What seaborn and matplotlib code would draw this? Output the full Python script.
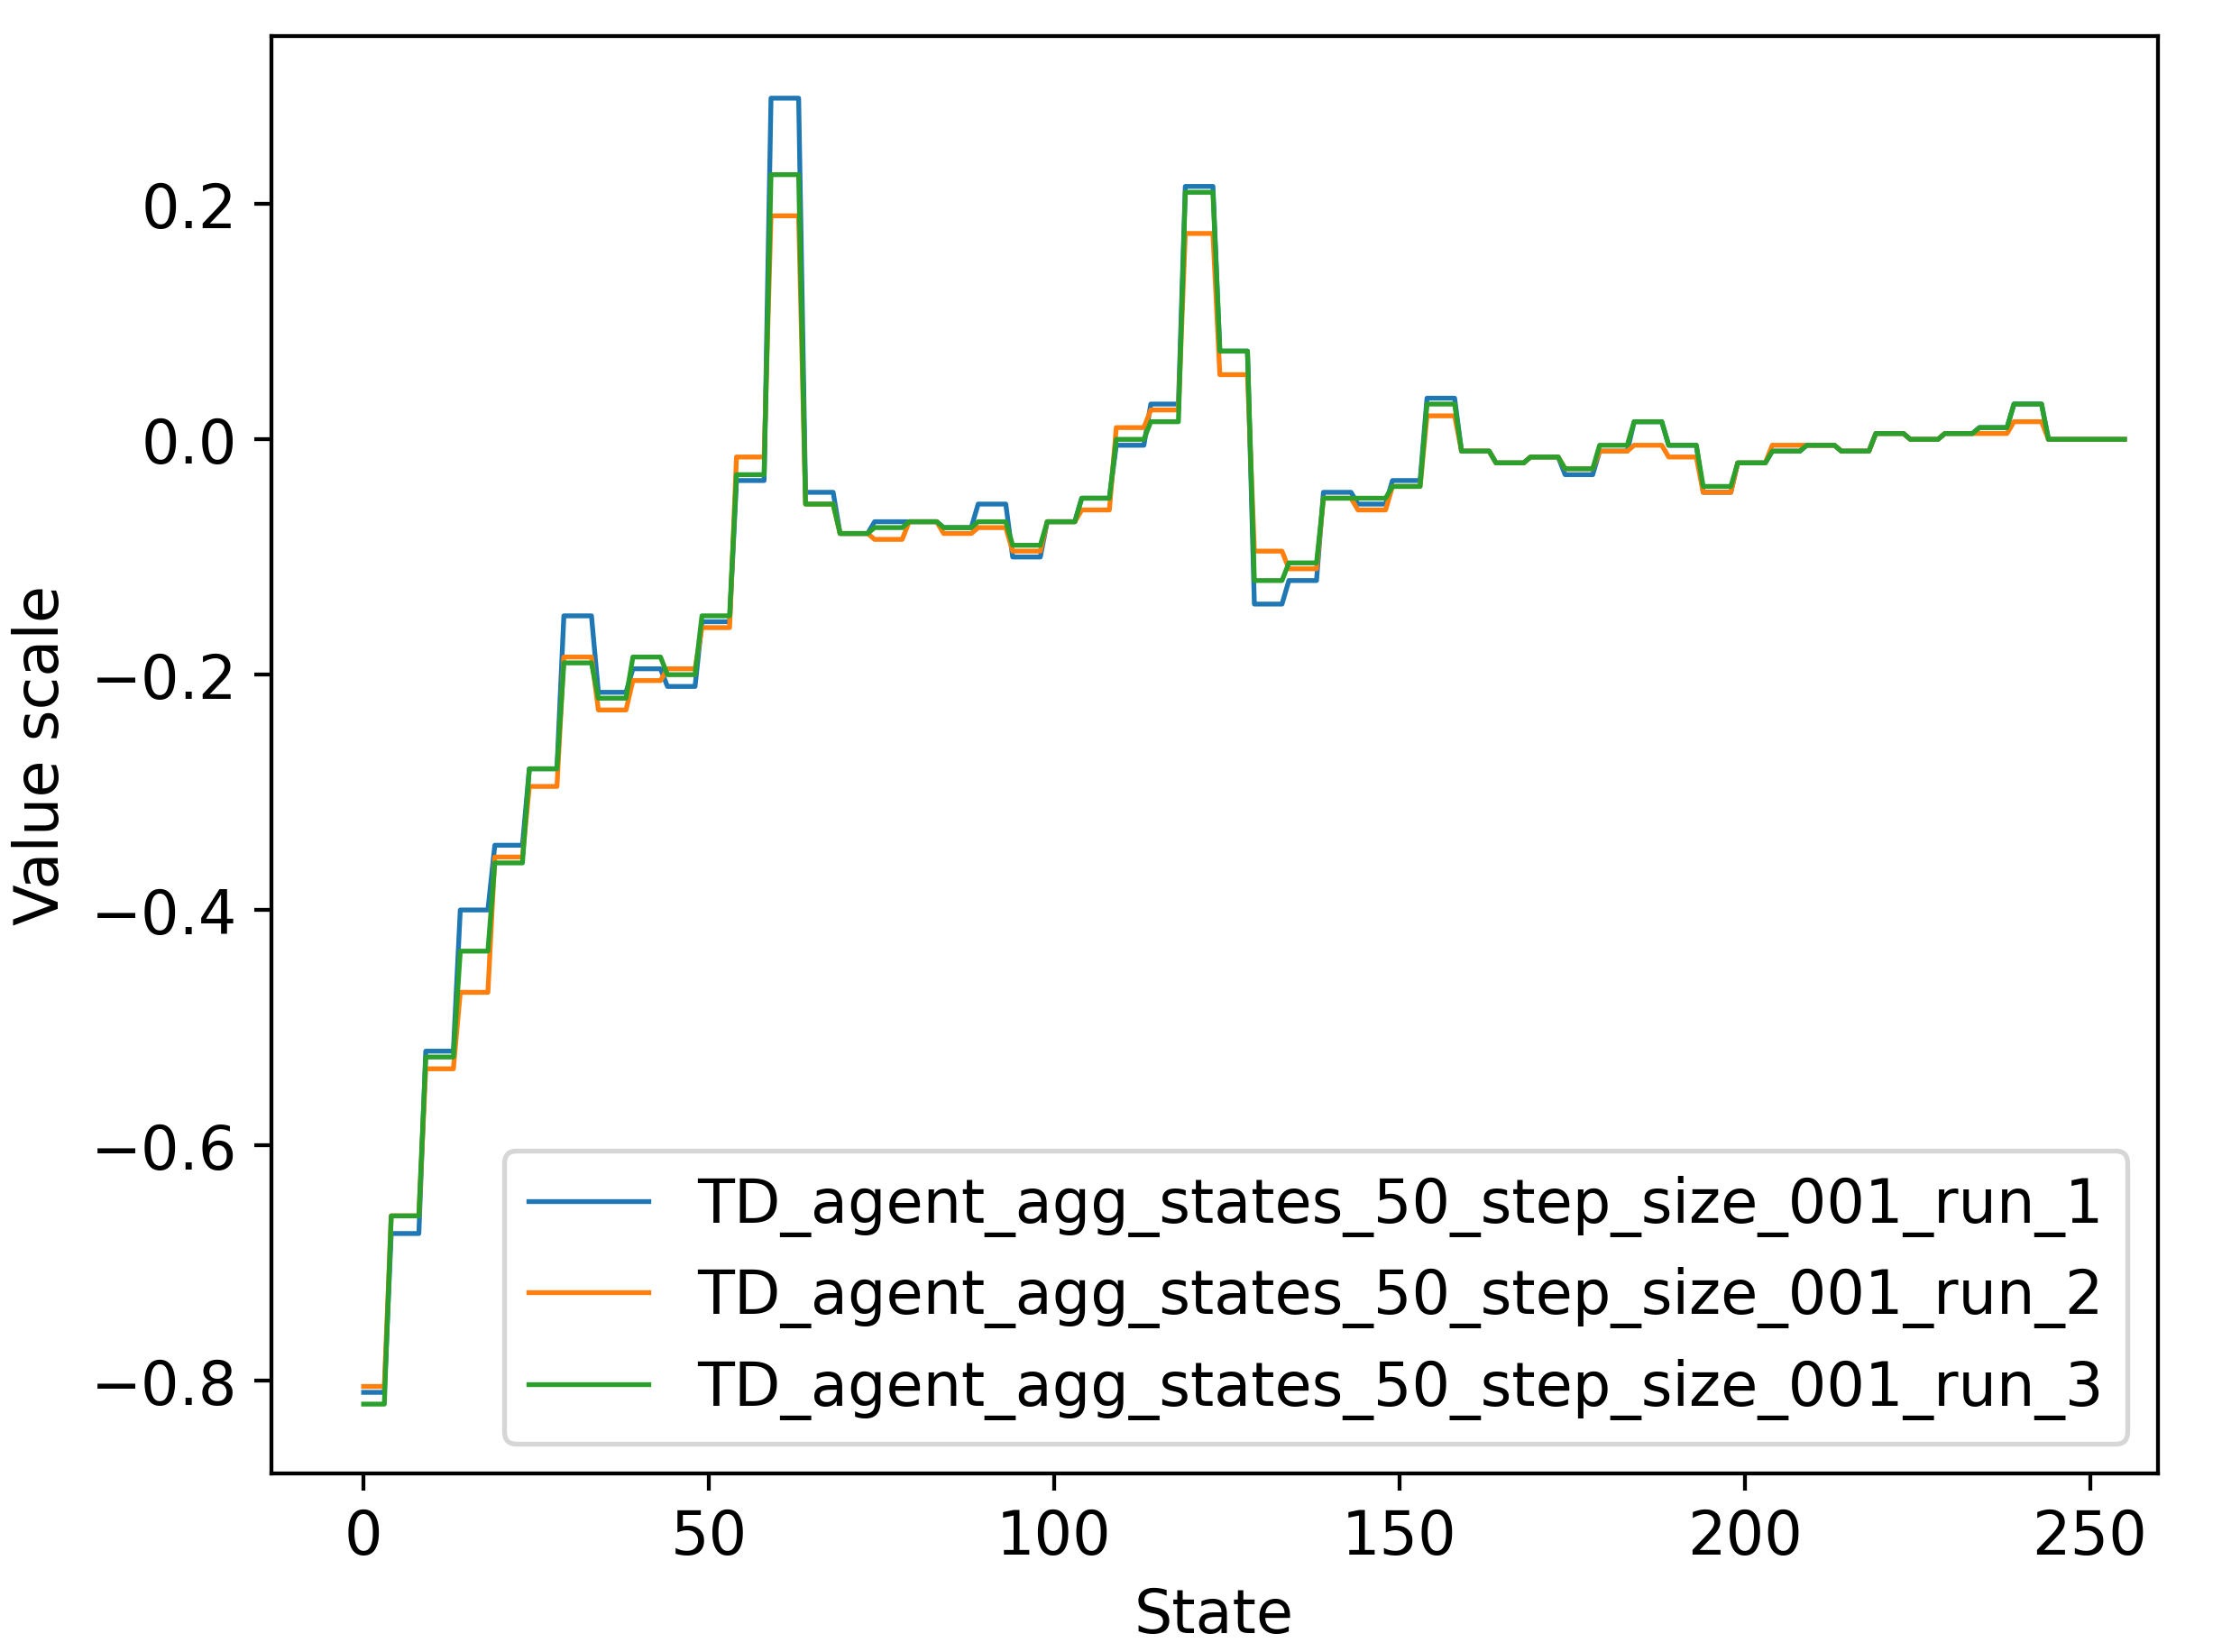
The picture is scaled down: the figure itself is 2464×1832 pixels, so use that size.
import numpy as np
import pandas as pd
import matplotlib
matplotlib.use("Agg")
import matplotlib.pyplot as plt
import seaborn as sns

run_1 = [-0.81, -0.675, -0.52, -0.40, -0.345, -0.28, -0.15, -0.215, -0.195, -0.21, -0.155, -0.035, 0.29,
         -0.045, -0.08, -0.07, -0.07, -0.075, -0.055, -0.10, -0.07, -0.05, -0.005, 0.03, 0.215, 0.075,
         -0.14, -0.12, -0.045, -0.055, -0.035, 0.035, -0.01, -0.02, -0.015, -0.03, -0.01, 0.015, -0.005,
         -0.045, -0.02, -0.01, -0.005, -0.01, 0.005, 0.0, 0.005, 0.01, 0.03, 0.0, 0.0, 0.0]
run_2 = [-0.805, -0.66, -0.535, -0.47, -0.355, -0.295, -0.185, -0.23, -0.205, -0.195, -0.16, -0.015, 0.19,
         -0.055, -0.08, -0.085, -0.07, -0.08, -0.075, -0.095, -0.07, -0.06, 0.01, 0.025, 0.175, 0.055,
         -0.095, -0.11, -0.05, -0.06, -0.04, 0.02, -0.01, -0.02, -0.015, -0.025, -0.01, -0.005, -0.015,
         -0.045, -0.02, -0.005, -0.005, -0.01, 0.005, 0.0, 0.005, 0.005, 0.015, 0.0, 0.0, 0.0]
run_3 = [-0.82, -0.66, -0.525, -0.435, -0.36, -0.28, -0.19, -0.22, -0.185, -0.2, -0.15, -0.03, 0.225,
         -0.055, -0.08, -0.075, -0.07, -0.075, -0.07, -0.09, -0.07, -0.05, 0.0, 0.015, 0.21, 0.075,
         -0.12, -0.105, -0.05, -0.05, -0.04, 0.03, -0.01, -0.02, -0.015, -0.025, -0.005, 0.015, -0.005,
         -0.04, -0.02, -0.01, -0.005, -0.01, 0.005, 0.0, 0.005, 0.01, 0.03, 0.0, 0.0, 0.0]
names = ["TD_agent_agg_states_50_step_size_001_run_1",
         "TD_agent_agg_states_50_step_size_001_run_2",
         "TD_agent_agg_states_50_step_size_001_run_3"]

states = np.arange(256)
seg = np.clip((states + 1) // 5, 0, 51)
rows = []
for name, vals in zip(names, [run_1, run_2, run_3]):
    v = np.array(vals)[seg]
    rows.append(pd.DataFrame({"State": states, "Value": v, "run": name}))
df = pd.concat(rows)

plt.rcParams["font.size"] = 12.5
fig = plt.figure(figsize=(6.4, 4.76), dpi=385)
ax = fig.add_axes([0.122, 0.108, 0.849, 0.87])
sns.lineplot(data=df, x="State", y="Value", hue="run", ax=ax,
             palette=["#1f77b4", "#ff7f0e", "#2ca02c"], linewidth=1.0)
ax.set_xlim(-13.4, 259.8)
ax.set_ylim(-0.879, 0.343)
ax.set_xticks([0, 50, 100, 150, 200, 250])
ax.set_yticks([-0.8, -0.6, -0.4, -0.2, 0.0, 0.2])
ax.set_xlabel("State")
ax.set_ylabel("Value scale")
ax.legend(title=None, loc="lower right")
fig.savefig("out.png", dpi=385)
